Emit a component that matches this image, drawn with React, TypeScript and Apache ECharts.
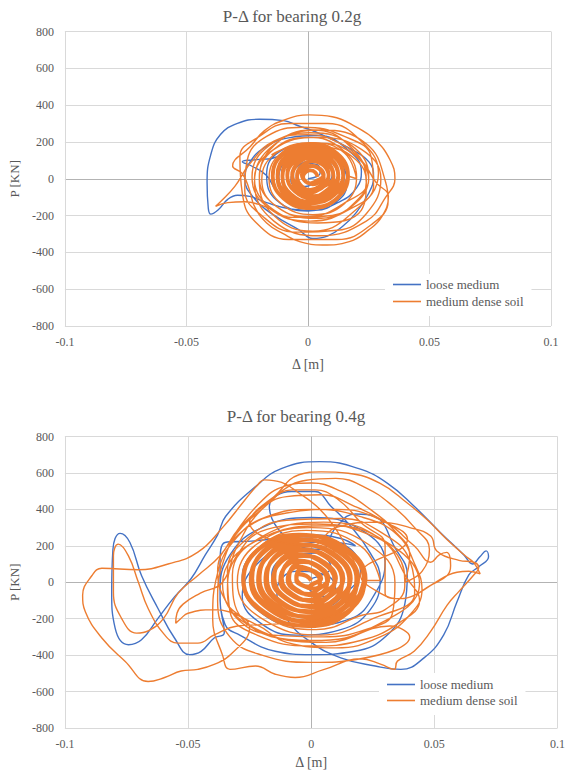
import React, { useEffect, useRef } from "react";
import * as echarts from "echarts";

// ---- axis / text data ----
const titles = ["P-Δ for bearing 0.2g", "P-Δ for bearing 0.4g"];
const seriesNames = ["loose medium", "medium dense soil"];
const xMin = -0.1, xMax = 0.1, xStep = 0.05; // Δ [m]
const yMin = -800, yMax = 800, yStep = 200; // P [KN]

// ---- series values: [Δ in mm, P in kN] ----
const loose02: number[][] = [
  [0,0],[5,30],[4,75],[-2,85],[-6,35],[-5,-40],[1,-75],[7,-35],
  [10,25],[8,105],[0,135],[-9,95],[-12,10],[-8,-85],[2,-125],[11,-85],
  [15,10],[12,140],[0,185],[-13,135],[-17,20],[-13,-115],[0,-175],[13,-125],
  [20,-50],[22,40],[17,150],[4,235],[-8,222],[-18,168],[-24,88],[-26,0],[-22,-108],[-14,-198],[-4,-275],[2,-325],[8,-312],[15,-250],[19.6,-188],[25,-79],[27,11],[25,93],[17,166],[4,250],
  [-4,288],[-10,316],[-20,323],[-29,301],[-36,240],[-40,130],[-41.5,-20],[-41,-160],[-40,-192],[-37,-170],[-33,-112],[-29,-90],[-24,-96],[-17,-130],[-8,-162],[3,-172],[12,-122],[16,-30],[14,72],[6,150],[-5,152],[-15,110],[-20,105],[-27,93],[-23,68],[-17,18],[-13,-62],[-5,-122],[6,-112],[11,-30],[9,58],[2,98],[-5,58],[-7,-12],[-1,-42],[4,0]
];

const dense02Core: number[][] = [
  [4,10],[3,35],[1,45],[-1,35],[-2,10],[-1,-15],[1,-25],[3,-15],
  [6.5,20],[5,55],[2,70],[-1,55],[-2.5,20],[-1,-15],[2,-30],[5,-15],
  [6.5,5],[5,50],[1,70],[-3,50],[-4.5,5],[-3,-40],[1,-60],[5,-40],
  [8.5,15],[6.5,71],[2,95],[-2.5,71],[-4.5,15],[-2.5,-41],[2,-65],[6.5,-41],
  [8.5,20],[6,86],[1,115],[-4,86],[-6.5,20],[-4,-46],[1,-75],[6,-46],
  [10.5,10],[8,83],[2,115],[-4,83],[-6.5,10],[-4,-63],[2,-95],[8,-63],
  [10.5,15],[7.5,95],[1,130],[-5.5,95],[-8.5,15],[-5.5,-65],[1,-100],[7.5,-65],
  [12.5,20],[9.5,107],[2,145],[-5.5,107],[-8.5,20],[-5.5,-67],[2,-105],[9.5,-67],
  [12.5,10],[9,104],[1,145],[-7,104],[-10.5,10],[-7,-84],[1,-125],[9,-84],
  [14.5,15],[11,116],[2,160],[-7,116],[-10.5,15],[-7,-86],[2,-130],[11,-86],
  [14.5,20],[10.5,128],[1,175],[-8.5,128],[-12.5,20],[-8.5,-88],[1,-135],[10.5,-88],
  [16.5,10],[12,125],[2,175],[-8,125],[-12.5,10],[-8,-105],[2,-155],[12,-105],
  [16.5,15],[12,137],[1,190],[-10,137],[-14.5,15],[-10,-107],[1,-160],[12,-107],[16.5,15]
];

const dense02: number[][] = [
  [16.5,15],[20,0],[15,140],[2,195],[-11,140],[-16,0],[-11,-135],[2,-195],[15,-135],
  [20,10],[14,160],[0,225],[-14,160],[-20,10],[-14,-140],[0,-205],[14,-140],
  [25,-5],[18,140],[3,195],[-13,140],[-19,-5],[-13,-150],[3,-215],[18,-150],
  [25,10],[18,180],[1,250],[-16,180],[-23,10],[-16,-160],[1,-230],[18,-160],
  [27,-40],[26,120],[15,230],[-2,280],[-17,230],[-25,100],[-26,-60],[-19,-200],[-5,-290],[12,-280],[24,-190],
  [30,0],[22,160],[4,225],[-14,160],[-22,0],[-14,-170],[4,-240],[22,-170],
  [24,-10],[17,180],[2,265],[-14,180],[-20,-10],[-14,-200],[2,-285],[17,-200],
  [29,30],[23,190],[8,300],[-8,300],[-20,230],[-28,120],[-27,-80],[-22,-230],[-8,-330],[12,-330],[26,-250],[33,-120],
  [32,-20],[24,190],[5,265],[-14,185],[-22,-20],[-14,-230],[5,-310],[24,-230],
  [32,-100],[35.8,2],[33.8,102],[27.7,210],[19.6,283],[10,337],[0.7,347],[-10,318],[-18,260],[-23.7,175],[-31,69],[-27,28],[-24,-62],[-22,-150],[-17,-240],[-10,-300],[-3.4,-342],[6,-360],[17,-342],[25,-278],[30.4,-206],[33.1,-97],
  [28,-20],[22,100],[12,200],[0,240],[-14,205],[-24,80],[-30,-40],[-36,-125],[-38,-150],[-33,-130],[-26,-125],[-18,-150],[-6,-210],[10,-200],[20,-120],[24,-20],[20,100],[8,170],[-5,175],[-15,130]
];

const loose04: number[][] = [
  [0,20],[8,80],[2,160],[-10,140],[-16,40],[-10,-90],[4,-140],[14,-60],
  [20,60],[14,200],[-4,250],[-20,190],[-28,30],[-22,-150],[-4,-240],[16,-200],[26,-60],
  [30,110],[20,290],[0,355],[-20,300],[-33,150],[-37,-50],[-35,-230],[-29,-290],[-14.6,-379],[0,-397],[17.6,-379],[31,-288],[38,-120],[39,40],[34,190],[25.7,362],[18,375],[10,300],[4,180],
  [-5,200],[-17,417],[-8,498],[1.5,498],[8,417],[16,308],[24,160],[28,20],[24,-150],[12,-260],[-6,-290],[-20,-230],[-28,-80],[-22,100],[-8,200],[8,220],[18,200],[12,240],[0,260],
  [-23,227],[-35,218],[-37,100],[-37,-100],[-35.3,-279],[-39.4,-306],[-44.7,-379],[-49.4,-397],[-55.5,-306],[-62.2,-144],[-68.9,37],[-73.6,218],[-77.6,268],[-80.5,180],[-81,-53],[-79.6,-252],[-74.2,-343],[-68.9,-316],[-62.2,-198],[-55.5,-80],[-48.8,19],[-43,150],[-38,260],[-34.7,362],[-22.6,525],[-11.9,625],[3.5,662],[19,625],[31,543],[41.8,417],[52.5,272],[62,150],[65.5,100],[68.5,140],[71,172],[72,140],[68,85],[64,40],[59.2,-107],[53.8,-289],[45.8,-415],[36.4,-478],[26,-460],[12,-415],[0,-330],[-10,-200],[-14,-50],[-6,60],[6,40],[10,-40],[4,-80],[-2,-20]
];

const dense04Core: number[][] = [
  [0,10],[-2,35],[-5,45],[-6,35],[-6,10],[-4,-15],[-1,-25],[0,-15],
  [4,20],[1.5,58],[-3,75],[-5.5,58],[-6,20],[-3.5,-18],[1,-35],[3.5,-18],
  [3.5,10],[0.5,62],[-5,85],[-8.5,62],[-9.5,10],[-6.5,-42],[-1,-65],[2.5,-42],
  [7,20],[3.5,84],[-3,112],[-7.5,84],[-9,20],[-5.5,-44],[1,-72],[5.5,-44],
  [6.5,10],[2.5,86],[-5,118],[-10.5,86],[-12.5,10],[-8.5,-66],[-1,-98],[4.5,-66],
  [10,20],[5.5,107],[-3,144],[-9.5,107],[-12,20],[-7.5,-67],[1,-104],[7.5,-67],
  [9.5,10],[4.5,108],[-5,150],[-12.5,108],[-15.5,10],[-10.5,-88],[-1,-130],[6.5,-88],
  [13,20],[8,128],[-3,175],[-12,128],[-15,20],[-10,-88],[1,-135],[10,-88],
  [12.5,10],[7,129],[-5,180],[-15,129],[-18.5,10],[-13,-109],[-1,-160],[9,-109],
  [16,20],[10,149],[-3,204],[-14,149],[-18,20],[-12,-109],[1,-164],[12,-109],
  [15.5,10],[9,149],[-5,208],[-17,149],[-21.5,10],[-15,-129],[-1,-188],[11,-129],
  [19,20],[12,168],[-3,232],[-16,168],[-21,20],[-14,-128],[1,-192],[14,-128],
  [18.5,10],[11,168],[-5,235],[-19,168],[-24.5,10],[-17,-148],[-1,-215],[13,-148],
  [22,20],[14,187],[-3,258],[-18,187],[-24,20],[-16,-147],[1,-218],[16,-147],
  [21.5,10],[13,185],[-5,260],[-21,185],[-27.5,10],[-19,-165],[-1,-240],[15,-165],[21.5,10]
];

const dense04: number[][] = [
  [21.5,10],[28,10],[20,200],[-2,285],[-21,195],[-28,10],[-19,-180],[2,-260],[21,-180],
  [30,-150],[38,-20],[35,150],[22,270],[2,320],[-18,290],[-30,150],[-34,-40],[-30,-200],[-15,-290],[5,-300],[22,-260],[33,-170],
  [34,0],[23,210],[0,300],[-22,210],[-30,0],[-20,-200],[4,-290],[25,-200],
  [42,-60],[40,120],[30,260],[12,350],[-10,340],[-26,240],[-34,60],[-33,-160],[-22,-290],[0,-350],[20,-320],[36,-220],[44,-100],
  [39,20],[28,240],[5,330],[-20,250],[-32,40],[-28,-200],[0,-320],[26,-240],
  [44,-10],[33,200],[8,310],[-22,230],[-36,-10],[-26,-230],[6,-330],[32,-240],
  [40,-300],[20,-420],[0,-440],[-20,-400],[-33,-300],[-38,-100],[-36,100],[-28,280],[-10,380],[10,400],[28,344],[41.8,200],[48.5,110],[52,150],[55,164],[56.6,91],[55.2,37],[48.5,-17],[41.8,-72],[36.4,-90],[30,-60],
  [30,200],[20.3,326],[11,453],[1.5,507],[-7.8,507],[-18.6,417],[-32,236],[-38,60],[-34,-120],[-25,-250],
  [-32.7,-397],[-39.4,-451],[-46,-478],[-52.8,-487],[-59.5,-523],[-66.2,-545],[-75.6,-433],[-85,-306],[-91.7,-162],[-92.8,-72],[-89,37],[-85,77],[-70.2,69],[-58.1,100],[-46,165],[-36,300],[-27,450],[-22,530],[-19,562],[-12,548],[-5,490],[2,420],[8,330],[14,200],[18,60],[15,-100],[5,-200],[-15,-230],
  [-30,-240],[-39.4,-289],[-46,-334],[-54.1,-334],[-59.5,-289],[-66.2,-144],[-70.2,1],[-74.2,145],[-78.3,209],[-80.3,145],[-80.3,-53],[-77,-198],[-70.9,-279],[-66,-265],[-60,-200],[-54,-60],[-46,37],[-37,145],[-29,300],[-15,470],[-5,590],[4,606],[15,598],[28,543],[39,435],[47,344],[55,236],[63,140],[66,108],[68.6,46],[64,60],[59.2,55],[48.5,-17],[41.8,-72],[36.4,-90],[28,-60],[20,40],
  [39.1,236],[28.4,344],[17.6,417],[4.2,480],[-10,470],[-20,400],[-30,200],[-36,0],[-45,-60],[-52,-120],[-54.5,-170],[-55,-225],[-53,-200],[-50,-170],[-40,-150],[-22,-234],[-10,-330],[10,-360],[28,-300],[40,-180],[45,-40],[42,100],[35,260],[20,360],[0,400],[-18,360],[-30,250],[-38,50],[-40,-200],[-36,-400],
  [-33,-478],[-22.6,-460],[-14.6,-505],[-6.5,-523],[5,-480],[20,-420],[28.4,-451],[33.7,-478],[35,-433],[41.8,-379],[48.5,-270],[55.2,-126],[60,-50],[66,40],[68,80],[66,110],[60,120],[51,172],[48.5,254],[40,300],[28,330],[10,300],[0,200],
  [-25,330],[-14,480],[-2,560],[10,570],[22,520],[33,420],[42,300],[48,180],[45,60],[38,0],
  [40,150],[34,280],[24,400],[12,500],[0,545],[-10,530],[-22,420],[-34,200]
];

const BLUE = "#4472C4";
const ORANGE = "#ED7D31";
const GRAY = "#595959";
const FONT = "Liberation Serif";

const toM = (pts: number[][]) => pts.map(([d, p]) => [d / 1000, p]);

function splitColors(min: number, max: number, step: number) {
  const arr: string[] = [];
  for (let v = min; v <= max + 1e-9; v += step) {
    arr.push(Math.abs(v) < 1e-9 ? "#b3b3b3" : "#d9d9d9");
  }
  return arr;
}

const grids = [
  { left: 58.5, right: 17, top: 31.5, height: 294.5 },
  { left: 61, right: 10, top: 436.5, height: 294.5 },
];

export default function App() {
  const ref = useRef<HTMLDivElement>(null);
  useEffect(() => {
    if (!ref.current) return;
    const chart = echarts.init(ref.current, undefined, { renderer: "svg" });
    const xAxis = [0, 1].map((i) => ({
      type: "value",
      gridIndex: i,
      min: xMin,
      max: xMax,
      interval: xStep,
      name: "Δ [m]",
      nameLocation: "middle",
      nameGap: i === 0 ? 31 : 27,
      nameTextStyle: { fontFamily: FONT, fontSize: 14, color: GRAY },
      axisLine: { show: false },
      axisTick: { show: false },
      axisLabel: { fontFamily: FONT, fontSize: 12, color: GRAY, margin: 10 },
      splitLine: { show: true, lineStyle: { color: splitColors(xMin, xMax, xStep), width: 1 } },
    }));
    const yAxis = [0, 1].map((i) => ({
      type: "value",
      gridIndex: i,
      min: yMin,
      max: yMax,
      interval: yStep,
      name: "P [KN]",
      nameLocation: "middle",
      nameGap: i === 0 ? 30 : 32,
      nameTextStyle: { fontFamily: FONT, fontSize: 13, color: GRAY },
      axisLine: { show: false },
      axisTick: { show: false },
      axisLabel: { fontFamily: FONT, fontSize: 12, color: GRAY, margin: 11 },
      splitLine: { show: true, lineStyle: { color: splitColors(yMin, yMax, yStep), width: 1 } },
    }));
    const mk = (name: string, data: number[][], gi: number, color: string, width: number, z: number) => ({
      type: "line",
      name,
      xAxisIndex: gi,
      yAxisIndex: gi,
      data: toM(data),
      symbol: "none",
      showSymbol: false,
      smooth: 0.45,
      silent: true,
      z,
      lineStyle: { color, width },
      itemStyle: { color },
    });
    const series = [
      mk(seriesNames[0], loose02, 0, BLUE, 1.4, 2),
      mk(seriesNames[1], dense02, 0, ORANGE, 1.4, 4),
      mk(seriesNames[1], dense02Core, 0, ORANGE, 3.8, 3),
      mk(seriesNames[0], loose04, 1, BLUE, 1.4, 2),
      mk(seriesNames[1], dense04, 1, ORANGE, 1.4, 4),
      mk(seriesNames[1], dense04Core, 1, ORANGE, 4.2, 3),
    ];
    const legendBase = {
      orient: "vertical",
      data: seriesNames,
      icon: "rect",
      itemWidth: 28,
      itemHeight: 1.6,
      backgroundColor: "#ffffff",
      textStyle: { fontFamily: FONT, fontSize: 13, color: GRAY },
      selectedMode: false,
    };
    chart.setOption({
      animation: false,
      backgroundColor: "#ffffff",
      grid: grids,
      xAxis,
      yAxis,
      series,
      legend: [
        { ...legendBase, left: 385, top: 274, itemGap: 4, padding: [4, 8, 8, 8] },
        { ...legendBase, left: 379, top: 673, itemGap: 3, padding: [5, 8, 8, 8] },
      ],
      graphic: [
        { type: "text", x: 292, y: 16, style: { text: titles[0], font: "17px 'Liberation Serif'", fill: GRAY, align: "center", verticalAlign: "middle" } },
        { type: "text", x: 296, y: 416, style: { text: titles[1], font: "17px 'Liberation Serif'", fill: GRAY, align: "center", verticalAlign: "middle" } },
      ],
    });
    return () => chart.dispose();
  }, []);
  return (
    <div
      ref={ref}
      style={{ position: "fixed", left: 0, top: 0, width: 568, height: 770, background: "#fff" }}
    />
  );
}
